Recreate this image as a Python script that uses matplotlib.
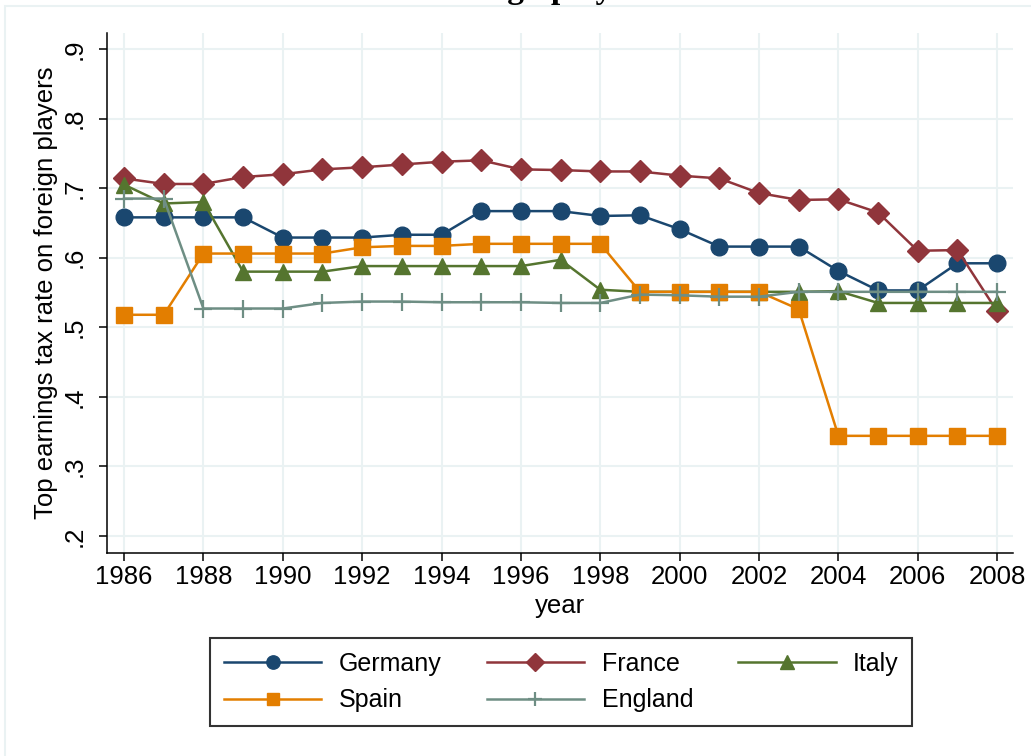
import numpy as np
import matplotlib
matplotlib.use("Agg")
import matplotlib.pyplot as plt
from matplotlib.patches import Rectangle

plt.rcParams['font.family'] = ['Liberation Sans', 'DejaVu Sans']

# ------------------ datos ------------------
years = list(range(1986, 2009))

germany = [0.658, 0.658, 0.658, 0.658, 0.629, 0.629, 0.629, 0.633, 0.633, 0.667, 0.667, 0.667,
           0.660, 0.661, 0.641, 0.616, 0.616, 0.616, 0.581, 0.553, 0.553, 0.592, 0.592]
france = [0.714, 0.706, 0.706, 0.716, 0.720, 0.727, 0.730, 0.734, 0.738, 0.740, 0.727, 0.726,
          0.724, 0.724, 0.718, 0.714, 0.693, 0.683, 0.684, 0.665, 0.610, 0.611, 0.523]
italy = [0.705, 0.678, 0.680, 0.580, 0.580, 0.580, 0.588, 0.588, 0.588, 0.588, 0.588, 0.597,
         0.554, 0.551, 0.551, 0.551, 0.551, 0.551, 0.552, 0.535, 0.535, 0.535, 0.535]
spain = [0.518, 0.518, 0.606, 0.606, 0.606, 0.606, 0.615, 0.617, 0.617, 0.620, 0.620, 0.620,
         0.620, 0.551, 0.551, 0.551, 0.551, 0.526, 0.344, 0.344, 0.344, 0.344, 0.344]
england = [0.685, 0.685, 0.527, 0.527, 0.527, 0.535, 0.537, 0.537, 0.536, 0.536, 0.536, 0.535,
           0.535, 0.547, 0.546, 0.544, 0.544, 0.551, 0.551, 0.551, 0.551, 0.551, 0.551]

xticks = list(range(1986, 2009, 2))
yticks = [0.2, 0.3, 0.4, 0.5, 0.6, 0.7, 0.8, 0.9]
ytick_labels = ['.2', '.3', '.4', '.5', '.6', '.7', '.8', '.9']

# colores estilo s2color
C_GER = '#1a476f'
C_FRA = '#90353b'
C_ITA = '#55752f'
C_SPA = '#e37e00'
C_ENG = '#6e8e84'
C_GRID = '#eaf2f3'

# ------------------ figura ------------------
fig = plt.figure(figsize=(10.31, 7.56), dpi=100)
fig.patch.set_facecolor('white')

# marco exterior (recortado a la derecha y abajo)
fig.patches.append(Rectangle((5 / 1031, -0.1), 1.2, 1.1 - 6 / 756, transform=fig.transFigure,
                             fill=False, edgecolor=C_GRID, lw=1.5, zorder=0))

# titulo cortado arriba, como en la original
fig.text(543 / 1031, 1 + 2 / 756, 'Foreign players', ha='center', va='baseline',
         fontsize=24, fontweight='bold', family='Liberation Serif')

ax = fig.add_axes([107 / 1031, 1 - 553 / 756, 906 / 1031, 520 / 756])

kw = dict(lw=1.8, zorder=3)
h_ger, = ax.plot(years, germany, color=C_GER, marker='o', ms=12, mec=C_GER, label='Germany', **kw)
h_fra, = ax.plot(years, france, color=C_FRA, marker='D', ms=11, mec=C_FRA, label='France', **kw)
h_ita, = ax.plot(years, italy, color=C_ITA, marker='^', ms=12, mec=C_ITA, label='Italy', **kw)
h_spa, = ax.plot(years, spain, color=C_SPA, marker='s', ms=11, mec=C_SPA, label='Spain', **kw)
h_eng, = ax.plot(years, england, color=C_ENG, marker='+', ms=13, mew=1.6, label='England', **kw)

ax.set_xlim(1985.57, 2008.4)
ax.set_ylim(0.1756, 0.923)
ax.set_xticks(xticks)
ax.set_yticks(yticks)
ax.set_yticklabels(ytick_labels, rotation=90, va='center')

ax.grid(True, color=C_GRID, lw=1.5, zorder=0)
ax.set_axisbelow(True)

for s in ['top', 'right']:
    ax.spines[s].set_visible(False)
for s in ['left', 'bottom']:
    ax.spines[s].set_linewidth(1.1)
    ax.spines[s].set_color('black')

ax.tick_params(axis='both', direction='out', length=6, width=1.1, labelsize=18.5)
ax.tick_params(axis='x', pad=3)
ax.tick_params(axis='y', pad=9)

ax.set_xlabel('year', fontsize=18.5)
ax.set_ylabel('Top earnings tax rate on foreign players', fontsize=18.5)
ax.xaxis.set_label_coords(0.5, -0.079)
ax.yaxis.set_label_coords(-0.054, 0.5)

# orden por filas: Germany France Italy / Spain England
handles = [h_ger, h_spa, h_fra, h_eng, h_ita]
leg = ax.legend(handles, [h.get_label() for h in handles],
                loc='upper left', bbox_to_anchor=(210 / 1031, 1 - 638 / 756),
                bbox_transform=fig.transFigure, ncol=3, fontsize=18, frameon=True,
                fancybox=False, edgecolor='black', borderaxespad=0, borderpad=0.55,
                handlelength=3.9, handletextpad=0.7, columnspacing=1.8,
                labelspacing=0.5, markerscale=0.8)
leg.get_frame().set_linewidth(1.5)

fig.savefig('out.png', dpi=100)
